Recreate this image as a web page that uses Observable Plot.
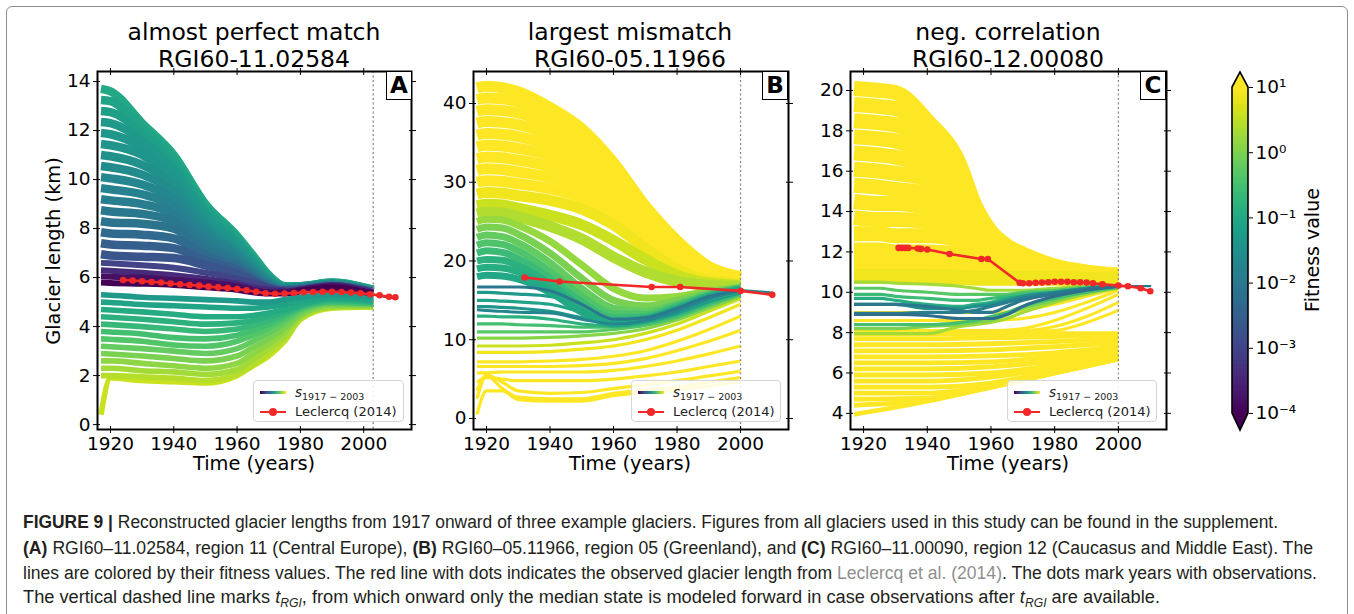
<!DOCTYPE html>
<html><head><meta charset="utf-8">
<script src="https://cdn.jsdelivr.net/npm/d3@7"></script>
<script src="https://cdn.jsdelivr.net/npm/@observablehq/plot@0.6"></script>
<style>
html,body{margin:0;padding:0;background:#fff;}
#fig{position:relative;width:1354px;height:614px;overflow:hidden;font-family:"DejaVu Sans",sans-serif;color:#000;background:#fff;}
.pl{position:absolute;top:0;}
.border{position:absolute;left:6px;top:6px;width:1342px;height:630px;border:1.3px solid #8c8c8c;border-radius:6px;box-sizing:border-box;}
.title{position:absolute;top:19px;transform:translateX(-50%);text-align:center;font-size:23.5px;line-height:27px;white-space:nowrap;}
.xlabel{position:absolute;top:463px;transform:translate(-50%,-50%);font-size:19.4px;white-space:nowrap;}
.ylabel{position:absolute;transform:translate(-50%,-50%) rotate(-90deg);font-size:19.4px;white-space:nowrap;}
.letter{position:absolute;top:71px;width:26px;height:29px;box-sizing:border-box;border:1.6px solid #000;background:#fff;font-weight:bold;font-size:23px;line-height:26px;text-align:center;}
.legend{position:absolute;top:380px;height:42px;box-sizing:border-box;border:1px solid #d6d6d6;border-radius:4px;background:rgba(255,255,255,0.85);}
.lg-grad{position:absolute;left:6px;top:10px;width:26px;height:2.6px;background:linear-gradient(to right,#440154,#3b528b,#21918c,#5ec962,#fde725);}
.lg-red{position:absolute;left:6px;top:29.5px;width:26px;height:2.2px;background:#f02828;}
.lg-dot{position:absolute;left:15px;top:26.5px;width:8px;height:8px;border-radius:50%;background:#f02828;}
.lg-t1{position:absolute;left:41px;top:2px;font-size:13.5px;line-height:18px;white-space:nowrap;color:#222;}
.lg-t1 i{font-style:italic;}
.lg-t1 sub{font-size:9.5px;vertical-align:-3px;}
.lg-t2{position:absolute;left:41px;top:22px;font-size:13px;line-height:18px;white-space:nowrap;color:#222;}
.cblabel{position:absolute;left:1312px;top:250px;transform:translate(-50%,-50%) rotate(-90deg);font-size:19px;white-space:nowrap;}
.cap{position:absolute;left:23px;font-family:"Liberation Sans",Arial,sans-serif;font-size:18px;line-height:20px;white-space:nowrap;transform-origin:0 50%;color:#231f20;}
.cap .lk{color:#8f8f8f;}
.cap sub{font-size:12px;vertical-align:-4px;font-style:italic;}
</style>
</head>
<body>
<div id="fig">
  <div class="border"></div>
  <div class="pl" id="pA" style="left:0px"></div>
  <div class="pl" id="pB" style="left:440px"></div>
  <div class="pl" id="pC" style="left:820px"></div>
  <div class="pl" id="pCB" style="left:1200px"></div>

  <div class="title" style="left:254px">almost perfect match<br>RGI60-11.02584</div>
  <div class="title" style="left:630px">largest mismatch<br>RGI60-05.11966</div>
  <div class="title" style="left:1008px">neg. correlation<br>RGI60-12.00080</div>

  <div class="ylabel" style="left:53px;top:251px">Glacier length (km)</div>
  <div class="xlabel" style="left:254px">Time (years)</div>
  <div class="xlabel" style="left:630px">Time (years)</div>
  <div class="xlabel" style="left:1008px">Time (years)</div>

  <div class="letter" style="left:386px">A</div>
  <div class="letter" style="left:762px">B</div>
  <div class="letter" style="left:1140px">C</div>

  <div class="legend" style="left:253px;width:151px"><div class="lg-grad"></div><div class="lg-red"></div><div class="lg-dot"></div><div class="lg-t1"><i>s</i><sub>1917 − 2003</sub></div><div class="lg-t2">Leclercq (2014)</div></div>
  <div class="legend" style="left:631px;width:150px"><div class="lg-grad"></div><div class="lg-red"></div><div class="lg-dot"></div><div class="lg-t1"><i>s</i><sub>1917 − 2003</sub></div><div class="lg-t2">Leclercq (2014)</div></div>
  <div class="legend" style="left:1007px;width:150px"><div class="lg-grad"></div><div class="lg-red"></div><div class="lg-dot"></div><div class="lg-t1"><i>s</i><sub>1917 − 2003</sub></div><div class="lg-t2">Leclercq (2014)</div></div>

  <div class="cblabel">Fitness value</div>

  <div class="cap" data-y="522" data-w="1255"><b>FIGURE 9 |</b> Reconstructed glacier lengths from 1917 onward of three example glaciers. Figures from all glaciers used in this study can be found in the supplement.</div>
  <div class="cap" data-y="548" data-w="1290"><b>(A)</b> RGI60–11.02584, region 11 (Central Europe), <b>(B)</b> RGI60–05.11966, region 05 (Greenland), and <b>(C)</b> RGI60–11.00090, region 12 (Caucasus and Middle East). The</div>
  <div class="cap" data-y="573" data-w="1294">lines are colored by their fitness values. The red line with dots indicates the observed glacier length from <span class="lk">Leclercq et al. (2014)</span>. The dots mark years with observations.</div>
  <div class="cap" data-y="597" data-w="1137">The vertical dashed line marks <i>t</i><sub>RGI</sub>, from which onward only the median state is modeled forward in case observations after <i>t</i><sub>RGI</sub> are available.</div>
</div>
<script>
// ---------------- DATA ----------------
const xTicks = [1920, 1940, 1960, 1980, 2000];
const aYTicks = [0, 2, 4, 6, 8, 10, 12, 14];
const bYTicks = [0, 10, 20, 30, 40];
const cYTicks = [4, 6, 8, 10, 12, 14, 16, 18, 20];
const cbTicks = [1e-4, 1e-3, 1e-2, 1e-1, 1, 10];
const tRGI = {A: 2003, B: 2000, C: 2000};

// Panel A (fitness given as log10 exponent)
const aYears = [1917, 1920, 1930, 1940, 1950, 1960, 1965, 1970, 1975, 1980, 1990, 2003];
const aUpperLen = [
  [13.7, 13.6, 12.3, 11.0, 9.0, 7.7, 6.9, 6.1, 5.65, 5.65, 5.8, 5.5],
  [13.25, 13.2, 12.1, 10.8, 8.9, 7.6, 6.8, 6.05, 5.65, 5.65, 5.8, 5.5],
  [12.8, 12.75, 11.9, 10.6, 8.75, 7.5, 6.7, 6.0, 5.6, 5.65, 5.75, 5.5],
  [12.35, 12.3, 11.6, 10.4, 8.6, 7.4, 6.65, 5.95, 5.6, 5.6, 5.75, 5.45],
  [11.9, 11.85, 11.3, 10.2, 8.45, 7.3, 6.6, 5.9, 5.6, 5.6, 5.75, 5.45],
  [11.45, 11.4, 11.0, 10.0, 8.3, 7.2, 6.5, 5.9, 5.55, 5.6, 5.75, 5.45],
  [11.0, 10.95, 10.6, 9.8, 8.15, 7.1, 6.45, 5.85, 5.55, 5.6, 5.7, 5.45],
  [10.55, 10.5, 10.2, 9.5, 8.0, 7.0, 6.4, 5.8, 5.55, 5.6, 5.7, 5.45],
  [10.1, 10.05, 9.8, 9.2, 7.85, 6.9, 6.3, 5.8, 5.5, 5.6, 5.7, 5.4],
  [9.65, 9.6, 9.4, 8.9, 7.7, 6.8, 6.25, 5.75, 5.5, 5.55, 5.7, 5.4],
  [9.2, 9.15, 9.0, 8.6, 7.5, 6.7, 6.2, 5.7, 5.5, 5.55, 5.7, 5.4],
  [8.75, 8.7, 8.6, 8.3, 7.3, 6.6, 6.1, 5.7, 5.5, 5.55, 5.65, 5.4],
  [8.3, 8.25, 8.2, 8.0, 7.1, 6.5, 6.05, 5.65, 5.45, 5.5, 5.65, 5.4],
  [7.85, 7.8, 7.75, 7.6, 6.9, 6.4, 6.0, 5.6, 5.45, 5.5, 5.65, 5.4],
  [7.4, 7.35, 7.3, 7.2, 6.7, 6.3, 5.9, 5.6, 5.45, 5.5, 5.6, 5.4],
  [6.95, 6.9, 6.85, 6.8, 6.5, 6.15, 5.85, 5.55, 5.45, 5.5, 5.6, 5.4]
];
const aUpperFit = [-1.0, -1.1, -1.2, -1.3, -1.35, -1.4, -1.5, -1.6, -1.7, -1.8, -1.9, -2.0, -2.1, -2.3, -2.5, -2.7];
const aPurpleLen = [
  [6.6, 6.58, 6.5, 6.4, 6.2, 5.95, 5.8, 5.6, 5.5, 5.55, 5.7, 5.45],
  [6.3, 6.28, 6.2, 6.1, 5.95, 5.75, 5.6, 5.5, 5.45, 5.5, 5.7, 5.4],
  [6.05, 6.03, 6.0, 5.9, 5.8, 5.65, 5.5, 5.4, 5.4, 5.5, 5.65, 5.35],
  [5.8, 5.78, 5.75, 5.7, 5.6, 5.5, 5.4, 5.35, 5.35, 5.45, 5.6, 5.35]
];
const aPurpleFit = [-3.0, -3.4, -3.8, -4.0];
const aLowerLen = [
  [5.3, 5.28, 5.2, 5.15, 5.1, 5.05, 5.0, 5.0, 5.1, 5.2, 5.3, 5.2],
  [5.0, 4.98, 4.9, 4.85, 4.8, 4.75, 4.75, 4.8, 4.9, 5.05, 5.2, 5.1],
  [4.7, 4.68, 4.6, 4.5, 4.4, 4.4, 4.45, 4.55, 4.7, 4.9, 5.15, 5.05],
  [4.4, 4.38, 4.3, 4.2, 4.1, 4.15, 4.25, 4.4, 4.6, 4.85, 5.1, 5.0],
  [4.1, 4.08, 4.0, 3.9, 3.8, 3.9, 4.05, 4.25, 4.5, 4.8, 5.05, 5.0],
  [3.8, 3.78, 3.7, 3.55, 3.5, 3.65, 3.85, 4.1, 4.4, 4.75, 5.0, 4.95],
  [3.5, 3.48, 3.4, 3.25, 3.2, 3.4, 3.65, 3.95, 4.3, 4.7, 5.0, 4.95],
  [3.2, 3.18, 3.1, 3.0, 2.9, 3.1, 3.4, 3.75, 4.15, 4.6, 4.95, 4.9],
  [2.9, 2.88, 2.8, 2.7, 2.6, 2.8, 3.15, 3.5, 3.95, 4.5, 4.9, 4.9],
  [2.6, 2.6, 2.5, 2.4, 2.3, 2.5, 2.9, 3.3, 3.8, 4.45, 4.85, 4.85],
  [2.3, 2.3, 2.2, 2.15, 2.05, 2.25, 2.65, 3.1, 3.6, 4.4, 4.8, 4.85],
  [2.0, 2.0, 1.95, 1.9, 1.8, 2.05, 2.45, 2.9, 3.45, 4.3, 4.8, 4.8],
  [0.4, 1.9, 1.8, 1.75, 1.7, 2.0, 2.4, 2.8, 3.4, 4.3, 4.75, 4.8]
];
const aLowerFit = [-1.3, -1.1, -0.95, -0.8, -0.65, -0.5, -0.35, -0.2, 0, 0.15, 0.3, 0.45, 0.6];
const aMedYears = [2003, 2010];
const aMedLen = [5.3, 5.15];
const aMedFit = -4.0;
const aObsYears = [1924, 1927, 1930, 1933, 1936, 1939, 1942, 1945, 1948, 1951, 1954, 1957, 1960, 1963, 1966, 1969, 1972, 1975, 1978, 1981, 1984, 1987, 1990, 1993, 1996, 1999, 2002, 2005, 2008, 2010];
const aObsLen = [5.9, 5.88, 5.85, 5.82, 5.8, 5.76, 5.73, 5.7, 5.67, 5.63, 5.6, 5.57, 5.53, 5.48, 5.42, 5.36, 5.34, 5.35, 5.37, 5.4, 5.41, 5.42, 5.42, 5.41, 5.39, 5.36, 5.32, 5.28, 5.22, 5.2];

// Panel B
const bYears = [1917, 1920, 1925, 1930, 1940, 1950, 1960, 1970, 1980, 1990, 2000];
const bUpperLen = [
  [42, 42.2, 42, 41.5, 39.5, 36.8, 32.5, 27, 22.6, 19.3, 18.0],
  [40.5, 40.7, 40.6, 40.2, 38.5, 36, 31.8, 26.5, 22.2, 19.1, 17.9],
  [39, 39.2, 39.1, 38.8, 37.3, 35, 31, 26, 21.8, 18.9, 17.8],
  [37.5, 37.7, 37.6, 37.3, 36, 34, 30.2, 25.4, 21.4, 18.7, 17.7],
  [36, 36.2, 36.1, 35.8, 34.7, 33, 29.4, 24.8, 21.0, 18.5, 17.6],
  [34.5, 34.7, 34.6, 34.3, 33.4, 31.8, 28.5, 24.2, 20.6, 18.3, 17.5],
  [33, 33.2, 33.1, 32.8, 32, 30.6, 27.6, 23.6, 20.2, 18.1, 17.4],
  [31.5, 31.7, 31.6, 31.3, 30.6, 29.3, 26.6, 23, 19.8, 17.9, 17.3],
  [30, 30.2, 30.1, 29.8, 29.2, 28, 25.6, 22.3, 19.4, 17.7, 17.2],
  [28.5, 28.7, 28.6, 28.3, 27.7, 26.6, 24.6, 21.6, 19.0, 17.5, 17.1],
  [27, 27.2, 27.1, 26.7, 25.8, 24.6, 22.6, 20.2, 18.2, 17.2, 16.9],
  [26, 26.2, 26.1, 25.6, 24.4, 22.8, 20.5, 18.6, 17.4, 16.9, 16.8]
];
const bUpperFit = [1, 1, 1, 1, 1, 1, 1, 1, 1, 0.9, 0.6, 0.4];
const bGreenLen = [
  [25, 25.3, 25.2, 24.5, 22.5, 19.5, 16.5, 15.3, 15.5, 16.2, 16.7],
  [24, 24.3, 24.2, 23.4, 21.0, 17.8, 15.0, 14.3, 15.0, 16.0, 16.6],
  [23, 23.3, 23.1, 22.3, 19.8, 16.5, 14.0, 13.6, 14.6, 15.8, 16.6],
  [22, 22.3, 22.1, 21.3, 18.7, 15.5, 13.3, 13.2, 14.4, 15.7, 16.5],
  [21, 21.3, 21.1, 20.3, 17.8, 14.8, 12.8, 12.9, 14.2, 15.6, 16.5],
  [20, 20.2, 20.1, 19.4, 17.1, 14.2, 12.4, 12.7, 14.0, 15.5, 16.4],
  [19, 19.2, 19.1, 18.6, 16.5, 13.8, 12.2, 12.6, 13.9, 15.4, 16.4],
  [18, 18.2, 18.1, 17.7, 16.0, 13.5, 12.0, 12.5, 13.8, 15.3, 16.3]
];
const bGreenFit = [0.2, 0, -0.2, -0.4, -0.6, -0.8, -0.9, -1.0];
const bLowerLen = [
  [16, 16, 15.9, 15.8, 15.5, 14.5, 13.2, 13.0, 13.8, 15.2, 16.1],
  [15, 15, 14.9, 14.8, 14.5, 13.5, 12.5, 12.6, 13.6, 15.0, 16.0],
  [14.2, 14.2, 14.1, 14.0, 13.6, 12.8, 12.2, 12.4, 13.4, 14.9, 16.0],
  [13, 13, 12.9, 12.9, 12.6, 12.0, 11.8, 12.2, 13.2, 14.7, 15.9],
  [12, 12, 12, 11.9, 11.8, 11.6, 11.6, 12.0, 13.0, 14.5, 15.8],
  [11, 11, 11, 11, 11, 11, 11.3, 11.8, 12.8, 14.3, 15.7],
  [10.2, 10.2, 10.2, 10.2, 10.3, 10.5, 10.8, 11.4, 12.5, 14.0, 15.5],
  [9.2, 9.2, 9.2, 9.2, 9.3, 9.6, 10.0, 10.8, 12.0, 13.6, 15.2],
  [8.4, 8.4, 8.4, 8.4, 8.5, 8.8, 9.2, 10.0, 11.2, 12.8, 14.5],
  [7.2, 7.2, 7.2, 7.2, 7.3, 7.5, 7.9, 8.6, 9.8, 11.3, 13.0],
  [6.6, 6.6, 6.6, 6.6, 6.6, 6.7, 7.0, 7.6, 8.6, 9.8, 11.2],
  [5.8, 5.8, 5.9, 5.9, 5.9, 5.9, 6.1, 6.6, 7.3, 8.2, 9.2],
  [4.6, 5.2, 5.0, 4.8, 4.8, 4.8, 5.0, 5.4, 5.9, 6.6, 7.3],
  [3.5, 5.5, 4.6, 3.5, 3.2, 3.3, 3.8, 4.3, 4.8, 5.4, 6.0],
  [2.5, 5.4, 3.8, 2.7, 2.5, 2.5, 3.2, 3.6, 4.0, 4.6, 5.2],
  [0.5, 3.5, 3.5, 2.4, 2.2, 2.2, 2.9, 3.3, 3.6, 4.1, 4.7]
];
const bLowerFit = [-1.3, -1.1, -1.4, -0.8, -0.5, -0.3, 0.1, 0.6, 0.9, 1, 1, 1, 1, 1, 1, 1];
const bBestLen = [
  [16.7, 16.7, 16.7, 16.7, 16.2, 14.5, 12.6, 12.8, 14.0, 15.5, 16.3],
  [13.8, 13.7, 13.6, 13.5, 13.4, 12.6, 12.0, 12.4, 13.6, 15.2, 16.2]
];
const bBestFit = [-2.0, -1.7];
const bMedYears = [2000, 2010];
const bMedLen = [16.3, 16.0];
const bMedFit = -1.8;
const bObsYears = [1932, 1943, 1972, 1981, 2000, 2010];
const bObsLen = [17.9, 17.4, 16.7, 16.7, 16.2, 15.7];

// Panel C
const cYears = [1917, 1925, 1930, 1940, 1950, 1955, 1960, 1965, 1970, 1980, 1990, 2000];
const cUpperLen = [
  [20.1, 20.0, 19.9, 18.5, 16.4, 14.3, 13.0, 12.3, 11.9, 11.3, 11.0, 10.85],
  [19.3, 19.2, 19.1, 18.0, 16.1, 14.1, 12.9, 12.2, 11.8, 11.25, 11.0, 10.85],
  [18.5, 18.4, 18.3, 17.4, 15.8, 13.9, 12.8, 12.1, 11.7, 11.2, 10.95, 10.8],
  [17.7, 17.6, 17.5, 16.8, 15.4, 13.7, 12.6, 12.0, 11.6, 11.15, 10.95, 10.8],
  [16.9, 16.8, 16.7, 16.2, 15.0, 13.5, 12.5, 11.9, 11.5, 11.1, 10.9, 10.8],
  [16.1, 16.0, 15.9, 15.6, 14.6, 13.3, 12.4, 11.8, 11.4, 11.05, 10.9, 10.8],
  [15.3, 15.2, 15.1, 14.9, 14.2, 13.1, 12.2, 11.7, 11.3, 11.0, 10.85, 10.75],
  [14.5, 14.4, 14.4, 14.2, 13.7, 12.9, 12.1, 11.6, 11.2, 10.95, 10.85, 10.75],
  [13.7, 13.6, 13.6, 13.5, 13.2, 12.6, 12.0, 11.5, 11.15, 10.9, 10.8, 10.75],
  [12.9, 12.9, 12.8, 12.8, 12.6, 12.3, 11.8, 11.4, 11.1, 10.85, 10.8, 10.7],
  [12.1, 12.1, 12.0, 12.0, 11.9, 11.8, 11.5, 11.2, 11.0, 10.8, 10.75, 10.7],
  [11.4, 11.4, 11.4, 11.3, 11.3, 11.2, 11.1, 11.0, 10.9, 10.75, 10.7, 10.7],
  [10.8, 10.8, 10.8, 10.8, 10.75, 10.7, 10.7, 10.7, 10.7, 10.7, 10.65, 10.65]
];
const cUpperFit = [1, 1, 1, 1, 1, 1, 1, 1, 1, 1, 1, 1, 0.9];
const cMidLen = [
  [10.5, 10.5, 10.45, 10.4, 10.3, 10.2, 10.1, 10.1, 10.1, 10.2, 10.3, 10.35],
  [10.2, 10.2, 10.1, 10.0, 9.9, 9.9, 9.9, 9.9, 10.0, 10.1, 10.25, 10.3],
  [9.9, 9.9, 9.8, 9.7, 9.6, 9.6, 9.7, 9.8, 9.9, 10.0, 10.2, 10.3],
  [9.7, 9.7, 9.6, 9.4, 9.3, 9.4, 9.5, 9.7, 9.8, 10.0, 10.2, 10.3],
  [9.4, 9.4, 9.4, 9.2, 9.2, 9.3, 9.4, 9.6, 9.8, 10.0, 10.2, 10.3],
  [8.4, 8.4, 8.4, 8.4, 8.5, 8.6, 8.8, 9.0, 9.3, 9.7, 10.0, 10.25],
  [8.2, 8.2, 8.2, 8.3, 8.4, 8.5, 8.6, 8.9, 9.2, 9.6, 10.0, 10.2],
  [7.95, 7.95, 7.95, 7.95, 8.3, 8.4, 8.5, 8.7, 9.0, 9.5, 9.9, 10.2],
  [9.4, 9.4, 9.4, 9.3, 9.1, 9.0, 9.0, 9.3, 9.6, 9.9, 10.15, 10.3],
  [8.95, 8.95, 8.95, 9.0, 9.0, 9.1, 9.3, 9.5, 9.7, 9.95, 10.15, 10.3],
  [8.9, 8.9, 8.9, 8.85, 8.7, 8.7, 8.7, 8.9, 9.3, 9.8, 10.1, 10.3]
];
const cMidFit = [0.3, -0.3, -0.6, -0.9, -1.5, -0.5, 0.0, 0.3, -2.0, -1.9, -2.2];
const cLowYears = [1917, 1940, 1960, 1980, 2000];
const cLowLen = [
  [7.95, 7.95, 7.95, 7.95, 7.95],
  [7.7, 7.7, 7.75, 7.8, 7.9],
  [7.4, 7.4, 7.45, 7.55, 7.7],
  [7.1, 7.1, 7.15, 7.3, 7.5],
  [6.8, 6.8, 6.85, 7.0, 7.3],
  [6.5, 6.5, 6.55, 6.8, 7.1],
  [6.2, 6.2, 6.3, 6.6, 7.0],
  [5.9, 5.9, 6.0, 6.4, 6.9],
  [5.6, 5.6, 5.8, 6.25, 6.85],
  [5.3, 5.3, 5.5, 6.1, 6.8],
  [5.0, 5.0, 5.35, 6.05, 6.75],
  [4.7, 4.75, 5.3, 6.0, 6.7],
  [4.4, 4.65, 5.3, 6.0, 6.7],
  [3.95, 4.6, 5.3, 6.0, 6.7]
];
const cLowFit = [1, 1, 1, 1, 1, 1, 1, 1, 1, 1, 1, 1, 1, 1];
const cDiagYears = [1917, 1960, 1970, 1980, 1990, 2000];
const cDiagLen = [
  [8.1, 8.1, 8.2, 8.6, 9.2, 9.9],
  [8.1, 8.1, 8.1, 8.3, 8.8, 9.5],
  [8.05, 8.05, 8.05, 8.1, 8.5, 9.1],
  [8.6, 8.6, 8.7, 9.0, 9.5, 10.1],
  [9.0, 9.0, 9.1, 9.4, 9.8, 10.2]
];
const cDiagFit = [1, 1, 1, 1, 1];
const cMedYears = [2000, 2010];
const cMedLen = [10.3, 10.3];
const cMedFit = -2.0;
const cObsYears = [1931, 1932, 1933, 1934, 1937, 1938, 1940, 1947, 1957, 1959, 1969, 1970, 1972, 1974, 1976, 1978, 1980, 1982, 1984, 1986, 1988, 1990, 1992, 1995, 2000, 2003, 2007, 2010];
const cObsLen = [12.2, 12.2, 12.2, 12.2, 12.17, 12.15, 12.12, 11.9, 11.65, 11.65, 10.47, 10.45, 10.45, 10.47, 10.48, 10.5, 10.52, 10.52, 10.52, 10.5, 10.5, 10.48, 10.45, 10.4, 10.33, 10.3, 10.2, 10.05];

// ---------------- HELPERS ----------------
const RED = "#f02828";
const colorOpt = () => ({type: "log", domain: [1e-4, 10], scheme: "viridis", clamp: true});
function family(years, table, fits, tag) {
  const order = d3.range(table.length).sort((i, j) => fits[j] - fits[i]);
  const out = [];
  for (const i of order) table[i].forEach((v, k) => out.push({x: years[k], y: v, f: 10 ** fits[i], id: tag + i}));
  return out;
}
function pts(years, vals) { return years.map((x, i) => ({x, y: vals[i]})); }
function ens(data, w) {
  return Plot.line(data, {x: "x", y: "y", z: "id", stroke: "f", strokeWidth: w, curve: "monotone-x", strokeLinecap: "butt", strokeLinejoin: "round", clip: true});
}
function frameAxes(yt) {
  const fs = 18.5;
  return [
    Plot.axisX({anchor: "bottom", ticks: xTicks, tickFormat: "d", tickSize: 4, tickPadding: 3, fontSize: fs, label: null}),
    Plot.axisX({anchor: "bottom", ticks: xTicks, tickFormat: () => "", tickSize: -3, label: null}),
    Plot.axisX({anchor: "top", ticks: xTicks, tickFormat: () => "", tickSize: 4, label: null}),
    Plot.axisX({anchor: "top", ticks: xTicks, tickFormat: () => "", tickSize: -3, label: null}),
    Plot.axisY({anchor: "left", ticks: yt, tickSize: 4, tickPadding: 3, fontSize: fs, label: null}),
    Plot.axisY({anchor: "left", ticks: yt, tickFormat: () => "", tickSize: -3, label: null}),
    Plot.axisY({anchor: "right", ticks: yt, tickFormat: () => "", tickSize: 4, label: null}),
    Plot.axisY({anchor: "right", ticks: yt, tickFormat: () => "", tickSize: -3, label: null}),
    Plot.frame({stroke: "black", strokeWidth: 2})
  ];
}
function panel(width, ml, mr, yDomain, yt, marks) {
  return Plot.plot({
    width, height: 480, marginLeft: ml, marginRight: mr, marginTop: 71, marginBottom: 51,
    style: {fontFamily: "DejaVu Sans", fontSize: "18.5px", background: "transparent", color: "black", overflow: "visible"},
    x: {domain: [1915.9, 2015.1]}, y: {domain: yDomain}, color: colorOpt(),
    marks: [...marks, ...frameAxes(yt)]
  });
}
function obsMarks(years, vals) {
  const d = pts(years, vals);
  return [
    Plot.line(d, {x: "x", y: "y", stroke: RED, strokeWidth: 2.6}),
    Plot.dot(d, {x: "x", y: "y", fill: RED, r: 3.3})
  ];
}
function medMark(years, vals, fit) {
  return Plot.line(pts(years, vals).map(p => ({...p, f: 10 ** fit})), {x: "x", y: "y", stroke: "f", strokeWidth: 2.2});
}
const dashed = yr => Plot.ruleX([yr], {stroke: "#8a8a8a", strokeWidth: 1.3, strokeDasharray: "2,2.5"});

// ---------------- PANELS ----------------
const A = panel(440, 97, 29, [-0.2, 14.41], aYTicks, [
  ens(family(aYears, aLowerLen, aLowerFit, "l"), 5.6),
  ens(family(aYears, aUpperLen, aUpperFit, "u"), 8.5),
  ens(family(aYears, aPurpleLen, aPurpleFit, "p"), 6),
  dashed(tRGI.A),
  medMark(aMedYears, aMedLen, aMedFit),
  ...obsMarks(aObsYears, aObsLen)
]);
document.getElementById("pA").append(A);

const B = panel(380, 33, 32, [-1.4, 44.06], bYTicks, [
  ens(family(bYears, bUpperLen, bUpperFit, "u"), 11),
  ens(family(bYears, bLowerLen, bLowerFit, "l"), 3.2),
  ens(family(bYears, bGreenLen, bGreenFit, "g"), 7),
  ens(family(bYears, bBestLen, bBestFit, "b"), 3),
  dashed(tRGI.B),
  medMark(bMedYears, bMedLen, bMedFit),
  ...obsMarks(bObsYears, bObsLen)
]);
document.getElementById("pB").append(B);

const C = panel(370, 30, 24, [3.2, 20.94], cYTicks, [
  ens(family(cYears, cUpperLen, cUpperFit, "u"), 15),
  ens(family(cLowYears, cLowLen, cLowFit, "l"), 4.8),
  ens(family(cDiagYears, cDiagLen, cDiagFit, "d"), 3),
  ens(family(cYears, cMidLen, cMidFit, "m"), 3.2),
  dashed(tRGI.C),
  medMark(cMedYears, cMedLen, cMedFit),
  ...obsMarks(cObsYears, cObsLen)
]);
document.getElementById("pC").append(C);

// ---------------- COLORBAR ----------------
const sup = {"-": "⁻", "0": "⁰", "1": "¹", "2": "²", "3": "³", "4": "⁴"};
const supFmt = d => "10" + String(Math.round(Math.log10(d))).split("").map(c => sup[c]).join("");
const cbStops = d3.range(0, 401).map(i => 10 ** (-4 + 5 * i / 400));
const CB = Plot.plot({
  width: 154, height: 480, marginLeft: 32, marginRight: 106, marginTop: 87, marginBottom: 67,
  style: {fontFamily: "DejaVu Sans", fontSize: "18.5px", background: "transparent", color: "black", overflow: "visible"},
  y: {type: "log", domain: [1e-4, 10]}, color: colorOpt(),
  marks: [
    Plot.ruleY(cbStops, {y: d => d, stroke: d => d, strokeWidth: 1.6}),
    Plot.axisY({anchor: "right", ticks: cbTicks, tickFormat: supFmt, tickSize: 4, tickPadding: 3, fontSize: 18.5, label: null})
  ]
});
{
  const ys = CB.scale("y");
  const yt = ys.apply(10), yb = ys.apply(1e-4);
  const x0 = 32, x1 = 154 - 106, xm = (x0 + x1) / 2;
  const g = d3.select(CB).append("g");
  g.append("path").attr("d", `M${x0},${yt}L${xm},${yt - 15}L${x1},${yt}Z`).attr("fill", d3.interpolateViridis(1));
  g.append("path").attr("d", `M${x0},${yb}L${xm},${yb + 17}L${x1},${yb}Z`).attr("fill", d3.interpolateViridis(0));
  g.append("path").attr("d", `M${x0},${yt}L${xm},${yt - 15}L${x1},${yt}L${x1},${yb}L${xm},${yb + 17}L${x0},${yb}Z`)
    .attr("fill", "none").attr("stroke", "black").attr("stroke-width", 1.6).attr("stroke-linejoin", "miter");
}
document.getElementById("pCB").append(CB);

// ---------------- CAPTION FIT ----------------
document.querySelectorAll(".cap").forEach(el => {
  const w = el.getBoundingClientRect().width;
  const target = +el.dataset.w;
  el.style.top = (+el.dataset.y - 10) + "px";
  el.style.transform = `scaleX(${target / w})`;
});
</script>
</body></html>
